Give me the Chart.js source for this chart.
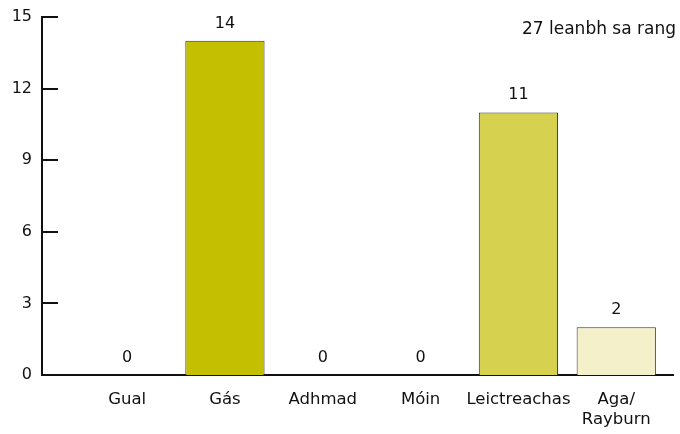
<!DOCTYPE html>
<html lang="ga">
<head>
  <meta charset="UTF-8" />
  <title>27 leanbh sa rang</title>
  <script src="https://cdn.jsdelivr.net/npm/chart.js"></script>
  <style>
    body {
      margin: 0;
      padding: 0;
      background: #ffffff;
    }
    .wrap {
      width: 680px;
      height: 434px;
    }
  </style>
</head>
<body>
  <div class="wrap"><canvas id="fuelChart" width="680" height="434"></canvas></div>

  <script>
    // data
    const categories = ['Gual', 'Gás', 'Adhmad', 'Móin', 'Leictreachas', ['Aga/', 'Rayburn']];
    const counts = [0, 14, 0, 0, 11, 2];
    const yTicks = [0, 3, 6, 9, 12, 15];
    const barColors = ['#c4bf00', '#c4bf00', '#c4bf00', '#c4bf00', '#d6d24f', '#f3f0ca'];
    const noteText = '27 leanbh sa rang';

    const FONT = "'DejaVu Sans', sans-serif";
    const INK = '#111111';

    // short tick marks pointing into the plot, value labels, note in the corner
    const extras = {
      id: 'extras',
      afterDraw(chart) {
        const ctx = chart.ctx;
        const area = chart.chartArea;
        const y = chart.scales.y;
        ctx.save();
        ctx.strokeStyle = INK;
        ctx.lineWidth = 2;
        yTicks.forEach(v => {
          const py = Math.round(y.getPixelForValue(v));
          ctx.beginPath();
          ctx.moveTo(area.left, py);
          ctx.lineTo(area.left + 16, py);
          ctx.stroke();
        });

        ctx.fillStyle = INK;
        ctx.font = '16px ' + FONT;
        ctx.textAlign = 'center';
        ctx.textBaseline = 'alphabetic';
        chart.getDatasetMeta(0).data.forEach((bar, i) => {
          ctx.fillText(String(counts[i]), bar.x, bar.y - 13);
        });

        ctx.font = '17px ' + FONT;
        ctx.textAlign = 'right';
        ctx.fillText(noteText, chart.width - 4, 34);
        ctx.restore();
      }
    };

    new Chart(document.getElementById('fuelChart').getContext('2d'), {
      type: 'bar',
      data: {
        datasets: [{
          data: counts.map((v, i) => ({ x: i, y: v })),
          backgroundColor: barColors,
          borderColor: '#333333',
          borderWidth: 1,
          borderSkipped: 'bottom',
          categoryPercentage: 1,
          barPercentage: 0.81
        }]
      },
      options: {
        responsive: false,
        animation: false,
        layout: { padding: { top: 17, right: 7, left: 0, bottom: 0 } },
        plugins: {
          legend: { display: false },
          tooltip: { enabled: false }
        },
        scales: {
          x: {
            type: 'linear',
            offset: false,
            min: -0.87,
            max: 5.58,
            afterFit: s => { s.height = 59; },
            afterBuildTicks: s => { s.ticks = categories.map((c, i) => ({ value: i })); },
            ticks: {
              color: INK,
              font: { family: FONT, size: 16.5 },
              padding: 15,
              maxRotation: 0,
              autoSkip: false,
              callback: v => categories[v]
            },
            grid: { display: false, drawTicks: false },
            border: { display: true, color: INK, width: 2 }
          },
          y: {
            min: 0,
            max: 15,
            afterFit: s => { s.width = 42; s.paddingTop = 0; s.paddingBottom = 0; },
            afterBuildTicks: s => { s.ticks = yTicks.map(v => ({ value: v })); },
            ticks: {
              color: INK,
              font: { family: FONT, size: 16 },
              padding: 10
            },
            grid: { display: false, drawTicks: false },
            border: { display: true, color: INK, width: 2 }
          }
        }
      },
      plugins: [extras]
    });
  </script>
</body>
</html>
